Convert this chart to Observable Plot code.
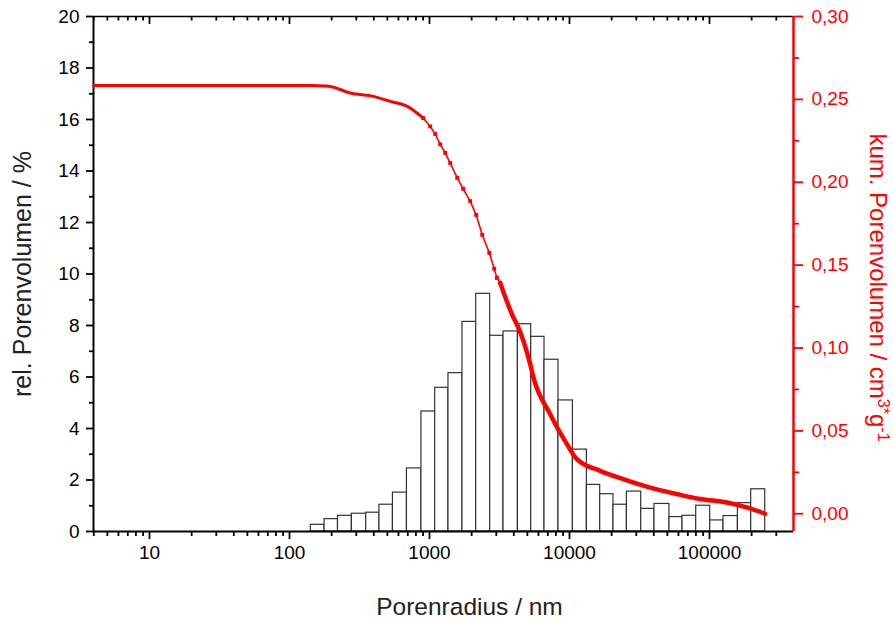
<!DOCTYPE html>
<html><head><meta charset="utf-8">
<script src="https://cdn.jsdelivr.net/npm/d3@7"></script>
<script src="https://cdn.jsdelivr.net/npm/@observablehq/plot@0.6"></script>
<style>
body{margin:0;background:#fff;}
#chart svg{display:block;font-family:"Liberation Sans",Arial,sans-serif;}
</style>
</head><body><div id="chart"></div>
<script>
// Histogram bins (pore radius in nm, bin edges) and relative pore volume (%)
const binEdges = [142, 178, 222, 279, 353, 439, 548, 690, 876, 1098, 1366, 1720, 2155, 2713, 3378, 4281, 5327, 6630, 8345, 10575, 13310, 16565, 20610, 25705, 32520, 40460, 51770, 64155, 80350, 101125, 125910, 159555, 198510, 249950];
const binHeights = [0.26, 0.48, 0.61, 0.69, 0.73, 1.04, 1.51, 2.45, 4.66, 5.58, 6.15, 8.14, 9.23, 7.60, 7.77, 8.05, 7.56, 6.67, 5.09, 3.18, 1.81, 1.45, 1.04, 1.55, 0.88, 1.07, 0.56, 0.61, 1.00, 0.43, 0.60, 1.10, 1.64];

// Cumulative pore volume curve (nm, cm3/g)
const curveRadius = [4, 145, 178, 196, 272, 396, 524, 694, 902, 1011, 1098, 1192, 1295, 1406, 1578, 1741, 1952, 2156, 2379, 2673, 2899, 3032, 3199, 3980, 4207, 5235, 5531, 7275, 9584, 11290, 16560, 24190, 37740, 58490, 85850, 133000, 184800, 250000];
const curveVolume = [0.2584, 0.2584, 0.2581, 0.2578, 0.2538, 0.2518, 0.2488, 0.2458, 0.2387, 0.2337, 0.2291, 0.2229, 0.2177, 0.2116, 0.2026, 0.1960, 0.1886, 0.1803, 0.1683, 0.1574, 0.1478, 0.1423, 0.1393, 0.1183, 0.1143, 0.0904, 0.0821, 0.0601, 0.0420, 0.0330, 0.0259, 0.0209, 0.0158, 0.0119, 0.0089, 0.0068, 0.0038, 0.0];

// Ticks
const xMajorTicks = [10, 100, 1000, 10000, 100000];
const xMinorMultipliers = [2, 3, 4, 5, 6, 7, 8, 9];
const yLeftMajor = [0, 2, 4, 6, 8, 10, 12, 14, 16, 18, 20];
const yLeftMinor = [1, 3, 5, 7, 9, 11, 13, 15, 17, 19];
const yRightMajor = [0, 0.05, 0.10, 0.15, 0.20, 0.25, 0.30];
const yRightMinor = [0.025, 0.075, 0.125, 0.175, 0.225, 0.275];

const W = 893, H = 623, mL = 93, mR = 100, mT = 16, mB = 92;
const plotH = H - mT - mB;
const xDomain = [Math.pow(10, 0.6), Math.pow(10, 5.6)];
const rMin = -0.0107, rMax = 0.30;
const toLeft = v => (v - rMin) / (rMax - rMin) * 20;
const fromLeft = y => rMin + y / 20 * (rMax - rMin);

const xMinor = [];
for (const d of [1, 10, 100, 1000, 10000, 100000])
  for (const m of xMinorMultipliers) { const v = d * m; if (v > xDomain[0] && v < xDomain[1]) xMinor.push(v); }

const bins = binHeights.map((h, i) => ({x1: binEdges[i], x2: binEdges[i + 1], h}));
const curve = curveRadius.map((r, i) => ({r, v: curveVolume[i]}));
const segA = curve.filter(d => d.r <= 902);
const segB = curve.filter(d => d.r >= 902 && d.r <= 3199);
const segC = curve.filter(d => d.r >= 3199);

const fmtR = y => fromLeft(y).toFixed(2).replace(".", ",");

const chart = Plot.plot({
  width: W, height: H,
  marginLeft: mL, marginRight: mR, marginTop: mT, marginBottom: mB,
  style: {fontFamily: "'Liberation Sans', Arial, sans-serif", color: "black", background: "white"},
  x: {type: "log", domain: xDomain},
  y: {domain: [0, 20]},
  marks: [
    Plot.rectY(bins, {x1: "x1", x2: "x2", y: "h", fill: "white", stroke: "#333", strokeWidth: 1.2}),
    // frame lines
    Plot.ruleY([20], {stroke: "black", strokeWidth: 1.6}),
    Plot.ruleY([0], {stroke: "black", strokeWidth: 2}),
    Plot.ruleX([xDomain[0]], {stroke: "black", strokeWidth: 2}),
    // top inward ticks
    Plot.tickX(xMajorTicks, {x: d => d, stroke: "black", strokeWidth: 1.8, insetBottom: plotH - 8}),
    Plot.tickX(xMinor, {x: d => d, stroke: "black", strokeWidth: 1.8, insetBottom: plotH - 4.5}),
    // bottom axis
    Plot.axisX(xMajorTicks, {anchor: "bottom", tickSize: 8, tickPadding: 6, strokeWidth: 1.8, fontSize: 19, label: null, tickFormat: d => String(d)}),
    Plot.axisX(xMinor, {anchor: "bottom", tickSize: 5, strokeWidth: 1.8, label: null, tickFormat: () => ""}),
    // left axis
    Plot.axisY(yLeftMajor, {anchor: "left", tickSize: 7, tickPadding: 7, strokeWidth: 1.8, fontSize: 19, label: null, tickFormat: d => String(d)}),
    Plot.axisY(yLeftMinor, {anchor: "left", tickSize: 4, strokeWidth: 1.8, label: null, tickFormat: () => ""}),
    // cumulative curve
    Plot.line(segA, {x: "r", y: d => toLeft(d.v), stroke: "red", strokeWidth: 3, curve: "monotone-x"}),
    Plot.line(segB, {x: "r", y: d => toLeft(d.v), stroke: "red", strokeWidth: 1.6}),
    Plot.dot(segB, {x: "r", y: d => toLeft(d.v), symbol: "square", r: 2.2, fill: "red"}),
    Plot.line(segC, {x: "r", y: d => toLeft(d.v), stroke: "red", strokeWidth: 4.5, strokeLinejoin: "round", strokeLinecap: "round", curve: "monotone-x"}),
    // right axis
    Plot.ruleX([xDomain[1]], {stroke: "red", strokeWidth: 2.5}),
    Plot.axisY(yRightMajor.map(toLeft), {anchor: "right", tickSize: 9, tickPadding: 9, strokeWidth: 1.8, fontSize: 19, label: null, color: "red", tickFormat: fmtR}),
    Plot.axisY(yRightMinor.map(toLeft), {anchor: "right", tickSize: 5, strokeWidth: 1.8, label: null, color: "red", tickFormat: () => ""}),
    // axis titles
    Plot.text(["Porenradius / nm"], {frameAnchor: "bottom", textAnchor: "middle", dx: 26, dy: 83, fontSize: 24.5, fill: "#222"}),
    Plot.text(["rel. Porenvolumen / %"], {frameAnchor: "left", textAnchor: "middle", dx: -71, rotate: -90, fontSize: 25, fill: "#222"})
  ]
});
document.getElementById("chart").appendChild(chart);

// Right axis title with superscripts
const svg = d3.select(chart);
const t = svg.append("text")
  .attr("transform", `translate(${W - mR + 77},${mT + plotH / 2 + 14}) rotate(90)`)
  .attr("text-anchor", "middle")
  .attr("fill", "red")
  .attr("font-size", 24)
  .attr("font-family", "'Liberation Sans', Arial, sans-serif");
t.append("tspan").text("kum. Porenvolumen / cm");
t.append("tspan").attr("baseline-shift", "super").attr("font-size", 16).text("3*");
t.append("tspan").text("g");
t.append("tspan").attr("baseline-shift", "super").attr("font-size", 16).text("-1");
</script>
</body></html>
